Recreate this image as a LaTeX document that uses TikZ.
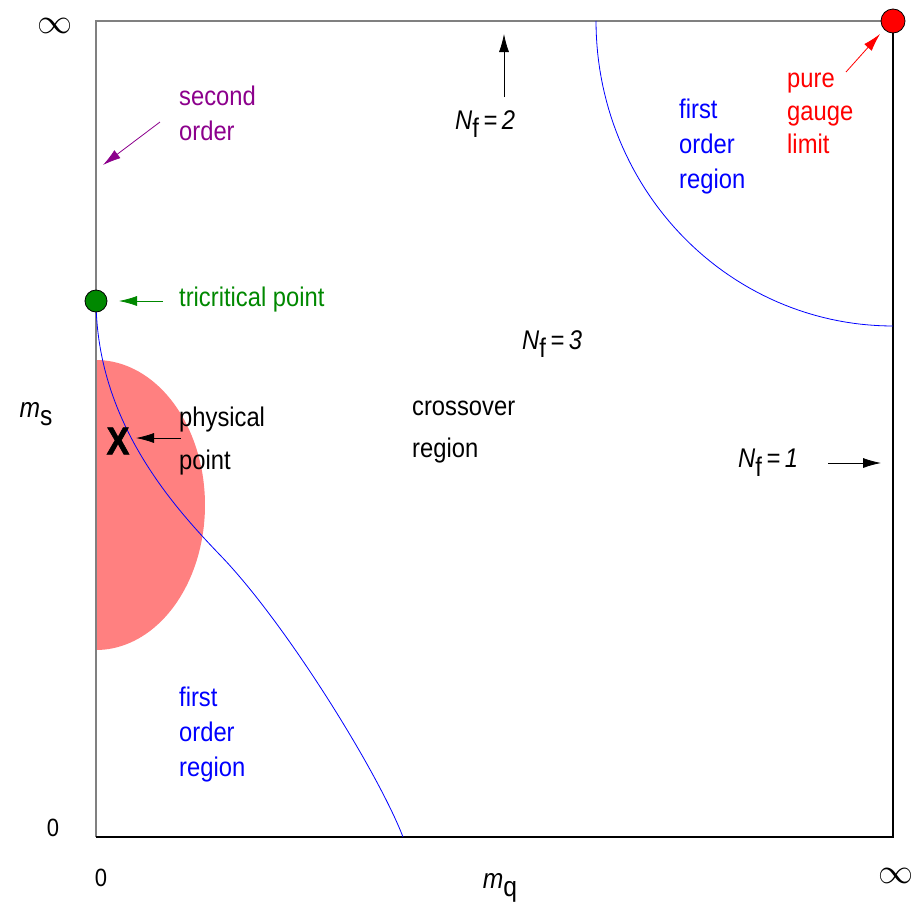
\documentclass[tikz,border=0pt]{standalone}
\usepackage{fontspec}
\setmainfont[FakeStretch=0.88]{Liberation Sans}
\usetikzlibrary{arrows.meta}
\definecolor{pinkfill}{RGB}{255,128,128}
\definecolor{lblpurple}{RGB}{140,0,140}
\definecolor{lblgreen}{RGB}{0,136,0}
\definecolor{boxgray}{RGB}{128,128,128}
\newcommand{\NfLabel}[1]{\textit{N}\raisebox{-0.32em}{f}\textit{\,=\,#1}}
\begin{document}
\begin{tikzpicture}[x=1pt,y=-1pt,
  lbl/.style={anchor=west,inner sep=0pt,align=left,font=\fontsize{27}{35}\selectfont},
  axlbl/.style={inner sep=0pt,font=\fontsize{28}{30}\selectfont},
  inflbl/.style={inner sep=0pt,font=\normalsize,scale=3.5},
  arr/.style={-{Latex[length=18pt,width=10pt]},line width=0.8pt},
  phase/.style={blue,line width=0.8pt}]
\useasboundingbox (0,0) rectangle (912,908);
% pink region
\fill[pinkfill] plot[domain=-90:90,samples=80] ({96+109*cos(\x)},{505+145*sin(\x)}) -- cycle;
% box
\draw[boxgray,line width=1.5pt] (96,837) -- (96,21) -- (893,21);
\draw[black,line width=1.5pt] (893,21) -- (893,837) -- (96,837);
% phase boundaries
\draw[phase] (96,301) .. controls (97,420) and (170,503) .. (220,555)
                      .. controls (285,622) and (378,772) .. (403,837);
\draw[phase] plot[domain=180:90,samples=60] ({893+297*cos(\x)},{21+305*sin(\x)});
% points
\node[circle,draw=black,fill=red,minimum size=24pt,inner sep=0pt,line width=0.8pt] (pg) at (893,21) {};
\node[circle,draw=black,fill=lblgreen,minimum size=22pt,inner sep=0pt,line width=0.8pt] (tc) at (96,301) {};
\node[inner sep=0pt,font=\fontsize{39}{40}\selectfont\bfseries\addfontfeature{FakeBold=1.5}] (x) at (118,441) {X};
% labels
\node[lbl,text=lblpurple] (so) at (179,113) {second\\order};
\node[lbl,text=lblgreen] (tcl) at (179,300) {tricritical point};
\node[lbl,font=\fontsize{27}{43}\selectfont] (pp) at (179,441) {physical\\point};
\node[lbl,font=\fontsize{27}{42}\selectfont] (co) at (412,432) {crossover\\region};
\node[lbl,text=blue] (fo1) at (679,147) {first\\order\\region};
\node[lbl,text=red,font=\fontsize{27}{33}\selectfont] (pgl) at (787,113) {pure\\gauge\\limit};
\node[lbl,text=blue] (fo2) at (179,735) {first\\order\\region};
\node[lbl] (nf3) at (522,344) {\NfLabel{3}};
\node[lbl] (nf2) at (455,124) {\NfLabel{2}};
\node[lbl] (nf1) at (738,463) {\NfLabel{1}};
% axis labels
\node[inflbl] (inf1) at (55,26) {$\infty$};
\node[inflbl] (inf2) at (896,876) {$\infty$};
\node[axlbl,font=\fontsize{25}{28}\selectfont] (z1) at (53,828) {0};
\node[axlbl,font=\fontsize{25}{28}\selectfont] (z2) at (101,878) {0};
\node[axlbl] (ms) at (36,414) {\textit{m}\raisebox{-0.3em}{s}};
\node[axlbl] (mq) at (500,888) {\textit{m}\raisebox{-0.3em}{q}};
% arrow anchors
\coordinate (a1s) at (160,122); \coordinate (a1e) at (103,165);
\coordinate (a2s) at (163,301); \coordinate (a2e) at (119,301);
\coordinate (a3s) at (181,438); \coordinate (a3e) at (136,438);
\coordinate (a4s) at (504,97);  \coordinate (a4e) at (504,34);
\coordinate (a5s) at (828,463); \coordinate (a5e) at (881,463);
\coordinate (a6s) at (846,72);  \coordinate (a6e) at (880,34);
\draw[arr,lblpurple] (a1s) -- (a1e);
\draw[arr,lblgreen] (a2s) -- (a2e);
\draw[arr,black] (a3s) -- (a3e);
\draw[arr,black] (a4s) -- (a4e);
\draw[arr,black] (a5s) -- (a5e);
\draw[arr,red] (a6s) -- (a6e);
\end{tikzpicture}
\end{document}
